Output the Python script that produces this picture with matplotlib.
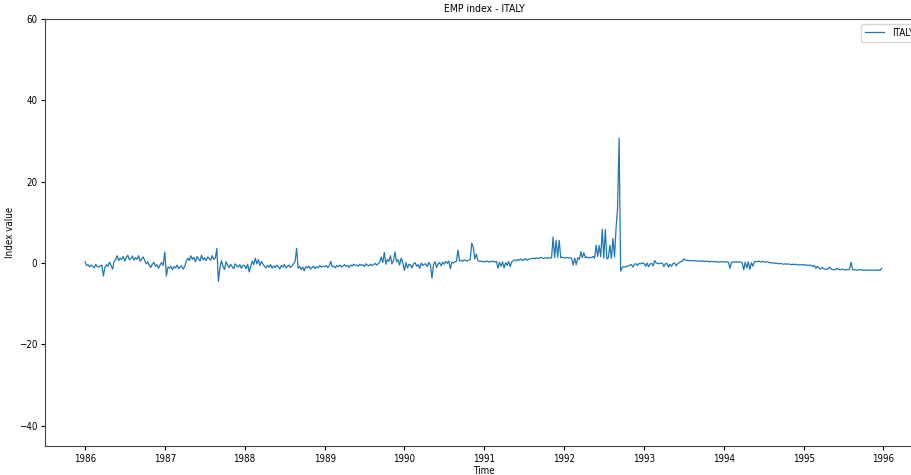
# EMP index for Italy, 1986-1995 (weekly readings taken off the reference chart)

import pandas as pd
import matplotlib.pyplot as plt

# Weekly index values, one list per year
vals_1986 = [0.3, -0.6, -0.4, -1.0, -0.5, -0.8, -1.2, -0.3, -0.9,
             -1.0, -0.7, -0.5, -3.2, -1.1,
             -0.4, -0.8, 0.2, -0.6, -1.5, 0.4, 0.8,
             1.8, 0.6, 1.2, 0.9, 1.6, 0.5, 1.4, 1.9, 0.8, 1.1, 1.7, 0.7, 1.3, 0.9, 1.8, 0.4, 1.0, 1.5, 0.6,
             -0.2, 0.3, -0.6, -1.1, -0.3, 0.2, -0.8, -0.4, -1.3, -0.5, 0.1, -0.6]
vals_1987 = [2.7, -3.2,
             -1.0, -1.3, -0.8, -1.6, -0.9, -1.2, -0.5, -1.4, -1.0, -0.7, -1.5, -0.9,
             0.4, 1.2, 0.6, 1.8, 0.9, 1.4, 0.3, 1.6, 1.0, 0.5, 1.9, 0.8, 1.3, 0.6, 1.5, 1.1, 0.7, 1.8, 0.9, 1.2,
             3.6, -4.5,
             -1.2, 0.6, -0.8, -1.6, 0.3, -0.5, -1.1, -0.3, -0.9, -1.4, -0.2, -0.7, -1.0, -0.4, -1.3, -0.6]
vals_1988 = [-0.6, -1.4, -0.3, -2.2, -0.8, 0.5, -0.4, 1.2, -0.2, 0.8, -0.6, 0.4, -0.3,
             -0.8, -1.2, -0.6, -1.0, -0.4, -1.3, -0.7, -1.1, -0.5, -0.9, -1.4, -0.6, -1.0, -0.3, -1.2, -0.8,
             -0.5, -1.1, -0.7, -0.2, 0.4,
             3.6,
             -1.3, -0.8, -1.6, -1.0, -1.9, -0.9, -1.2, -0.7, -1.5, -1.1, -0.8, -1.4, -0.9, -1.2, -0.6, -1.0, -0.8]
vals_1989 = [-0.9, -0.6, -1.1, -0.7, 0.4, -0.9, -0.8, -1.2, -0.6, -0.9, -0.5, -1.0, -0.7, -0.4, -0.8,
             -0.6, -1.1, -0.5, -0.7, -0.3, -0.6,
             -0.5, -0.8, -0.3, -0.6, -0.4, -0.9, -0.2, -0.5, -0.7, -0.3, -0.6, -0.4, -0.1, -0.5, -0.2,
             0.2, 1.5, 0.1, 2.6, -0.3, 0.9, 0.4, 1.8, -0.2, 0.6, 2.7, 0.3, 0.8, -0.5, 1.2, 0.2]
vals_1990 = [-1.8, 0.1, -1.2, -0.3,
             -0.5, -1.2, -0.2, 0.1, -0.8, -0.4, -1.3, 0.0, -0.6, -0.3,
             -0.2, -0.9, 0.2, -0.5, -3.7, -0.4, 0.3, -1.1, -0.2, 0.1, -0.7, 0.2, -0.3, 0.4, -0.1, 0.5,
             -1.4, 0.2, 0.0, 0.3,
             0.4, 3.2, 0.5, 0.7, 0.4, 0.8, 0.6, 0.5, 0.7, 0.9, 4.9, 3.8, 1.0, 2.2, 0.6, 0.4, 0.5, 0.3]
vals_1991 = [0.4, 0.3, 0.5, 0.2, 0.4, 0.3, 0.5, 0.2, 0.4,
             -1.3, 0.2, -0.8, 0.3, -1.2, 0.1, -0.6, 0.4, -0.9, 0.3,
             0.6, 0.8, 0.5, 0.9, 0.7, 1.0, 0.6, 0.8, 1.1, 0.7, 0.9, 1.0,
             1.1, 1.2, 1.0, 1.3, 1.1, 1.2, 1.4, 1.2, 1.1, 1.3, 1.2, 1.3, 1.2, 1.3,
             6.4, 1.3, 5.6, 1.4, 5.6, 1.3, 1.4]
vals_1992 = [1.3, 1.2, 1.4, 1.2, 1.3, 1.1,
             -0.5, 1.2, -0.4, 1.3, 0.9,
             2.8, 1.3, 2.5,
             1.3, 1.5, 1.2, 1.4, 1.3, 1.6, 1.2,
             4.4, 1.6, 4.3, 1.5, 8.3,
             1.2, 8.2, 1.0, 1.3, 4.4,
             1.1, 6.1, 1.5, 8.6, 13.5, 30.7,
             -2.0,
             -1.1, -0.9, -1.0, -0.8, -0.7, -0.5, -0.4, -1.0, -0.3, -0.2, -0.6, -0.1, -0.2, 0.0]
vals_1993 = [-0.1, -0.8, 0.0, -0.9, -0.2, -0.1, -0.7,
             0.6,
             0.0, -0.1, -0.2, 0.0, -0.1, -0.9, -0.2, -0.1, -1.0, -0.3, -0.8, -0.1, 0.0, -0.7, -0.2, 0.1,
             0.3, 0.5,
             1.0,
             0.7, 0.7, 0.6, 0.6, 0.6, 0.5, 0.6, 0.5, 0.5, 0.5, 0.4, 0.5, 0.4, 0.4, 0.5, 0.4, 0.3, 0.4,
             0.3, 0.4, 0.3, 0.3, 0.2, 0.3, 0.3]
vals_1994 = [0.3, 0.2, 0.3, 0.2,
             -1.3,
             0.2, 0.3, 0.2, 0.3, 0.2, 0.3, 0.2, 0.1,
             -1.7, 0.2, -1.2, 0.3, -1.6, 0.1, -0.8, 0.3,
             0.4, 0.3, 0.5, 0.2, 0.4, 0.3, 0.2, 0.3, 0.2, 0.1,
             0.0, 0.1, -0.1, 0.0, -0.1, -0.2, -0.1, -0.2, -0.3, -0.2, -0.3, -0.2, -0.3, -0.4, -0.3,
             -0.4, -0.3, -0.4, -0.5, -0.4, -0.5]
vals_1995 = [-0.4, -0.5, -0.5, -0.6, -0.5, -0.6,
             -0.9, -0.6, -1.3, -0.8, -1.2, -1.5, -1.1, -1.4,
             -1.5, -1.6, -1.4, -1.0, -1.5, -1.6, -1.7, -1.5, -1.3, -1.6, -1.7, -1.5, -1.6, -1.7, -1.6,
             -1.7, -1.5,
             0.2,
             -1.6, -1.7, -1.6, -1.8, -1.7, -1.6, -1.7, -1.8, -1.7, -1.8, -1.7, -1.8, -1.7, -1.8,
             -1.8, -1.7, -1.8, -1.7, -1.8, -1.3]

years = [1986, 1987, 1988, 1989, 1990, 1991, 1992, 1993, 1994, 1995]
yearly_values = [vals_1986, vals_1987, vals_1988, vals_1989, vals_1990,
                 vals_1991, vals_1992, vals_1993, vals_1994, vals_1995]

# Build one weekly series out of the yearly lists
pieces = []
for year, vals in zip(years, yearly_values):
    idx = pd.date_range(start=f"{year}-01-01", periods=len(vals), freq="7D")
    pieces.append(pd.Series(vals, index=idx))
emp_italy = pd.concat(pieces)

plt.rcParams['font.family'] = ['DejaVu Sans']
plt.rcParams['font.stretch'] = 'condensed'
plt.rcParams['font.size'] = 7
plt.rcParams['xtick.major.size'] = 3
plt.rcParams['ytick.major.size'] = 3
plt.rcParams['xtick.major.pad'] = 2.5
plt.rcParams['ytick.major.pad'] = 2.5
plt.rcParams['axes.edgecolor'] = '#444444'

fig = plt.figure(figsize=(9.11, 4.75), dpi=100)
# the axes runs past the right edge, like the cropped original
ax = fig.add_axes([0.0494, 0.061, 0.964, 0.899])

ax.plot(emp_italy.index, emp_italy.values, color='#1f77b4', linewidth=0.9, label='ITALY')
ax.set_ylim(-45, 60)
ax.set_xlim(pd.Timestamp("1985-07-02"), pd.Timestamp("1996-07-01"))

ax.set_title("EMP index - ITALY", fontsize=7.5, pad=5)
ax.set_xlabel("Time", labelpad=1.5)
ax.set_ylabel("Index value", labelpad=3)
ax.legend(loc='upper right', fontsize=7)

fig.savefig("out.png", dpi=100)
